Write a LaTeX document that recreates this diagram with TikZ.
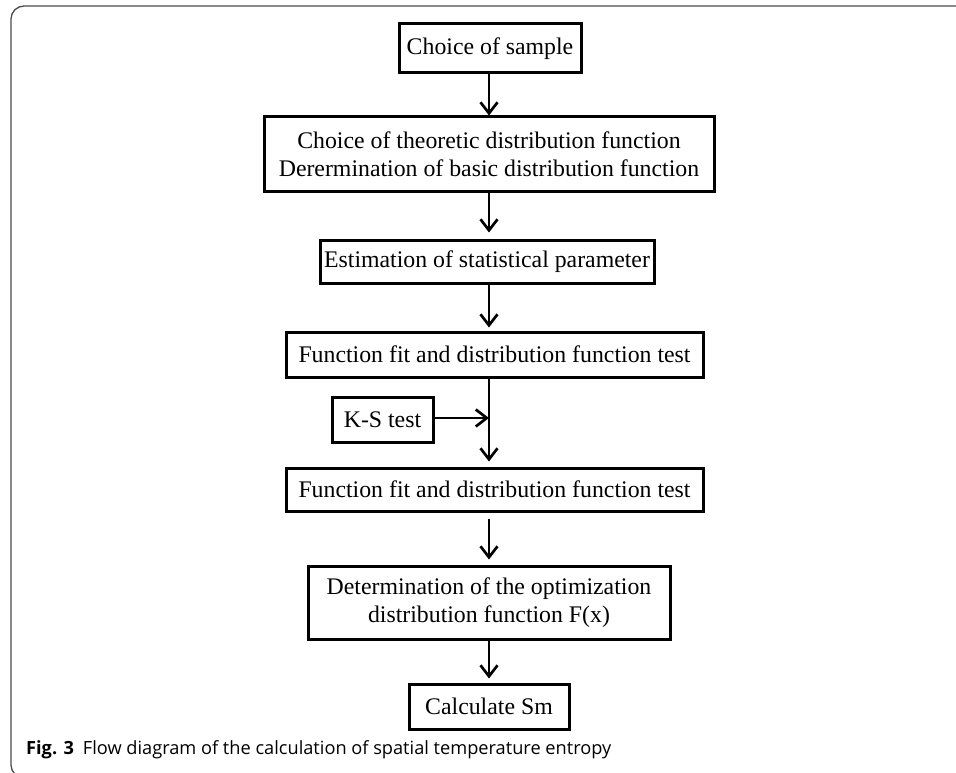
\documentclass[tikz,border=0pt]{standalone}
\usepackage{fontspec}
\setmainfont{Liberation Serif}
\newfontfamily\capfont{Open Sans}
\usetikzlibrary{arrows.meta}
\tikzset{
  flowbox/.style={draw, line width=3pt, inner sep=0pt, align=center,
    font=\fontsize{23.8}{28}\selectfont},
  arr/.style={line width=2.7pt, -{Straight Barb[length=11pt,width=17pt]}},
  frame/.style={draw=black!70, line width=1.3pt, rounded corners=13pt}
}
\begin{document}
\begin{tikzpicture}[x=1pt,y=-1pt]
\useasboundingbox (0,0) rectangle (956,773);
\clip (0,0) rectangle (956,773);
\fill[white] (0,0) rectangle (956,773);
\draw[frame] (1000,778) -- (11,778) -- (11,6) -- (1000,6);
\coordinate (ax) at (489,0);
\node[flowbox, minimum width=182pt, minimum height=49pt] (b1) at (490,48.5) {Choice of sample};
\node[flowbox, minimum width=450pt, minimum height=74pt] (b2) at (489,154) {Choice of theoretic distribution function\\Derermination of basic distribution function};
\node[flowbox, minimum width=334pt, minimum height=43pt] (b3) at (487,261.5) {Estimation of statistical parameter};
\node[flowbox, minimum width=417pt, minimum height=45pt] (b4) at (494.5,354.5) {Function fit and distribution function test};
\node[flowbox, minimum width=101pt, minimum height=45pt] (ks) at (382.5,419.5) {K-S test};
\node[flowbox, minimum width=417pt, minimum height=43pt] (b5) at (494.5,489.5) {Function fit and distribution function test};
\node[flowbox, minimum width=362pt, minimum height=73pt] (b6) at (489,602.5) {Determination of the optimization\\distribution function F(x)};
\node[flowbox, minimum width=160pt, minimum height=45pt] (b7) at (489,706.5) {Calculate Sm};
\draw[arr] (b1.south -| ax) -- (b2.north -| ax);
\draw[arr, shorten >=6pt] (b2.south -| ax) -- (b3.north -| ax);
\draw[arr, shorten >=3pt] (b3.south -| ax) -- (b4.north -| ax);
\draw[arr, shorten >=5pt] (b4.south -| ax) -- (b5.north -| ax);
\draw[arr] (ks.east |- 0,418) -- (ax |- 0,418);
\draw[arr, shorten <=6pt, shorten >=5pt] (b5.south -| ax) -- (b6.north -| ax);
\draw[arr, shorten >=4pt] (b6.south -| ax) -- (b7.north -| ax);
\node[anchor=base west, inner sep=0pt, font=\capfont\fontsize{18.2}{21}\selectfont] (cap) at (26,754) {\textbf{Fig. 3}\hspace{9pt}Flow diagram of the calculation of spatial temperature entropy};
\end{tikzpicture}
\end{document}
